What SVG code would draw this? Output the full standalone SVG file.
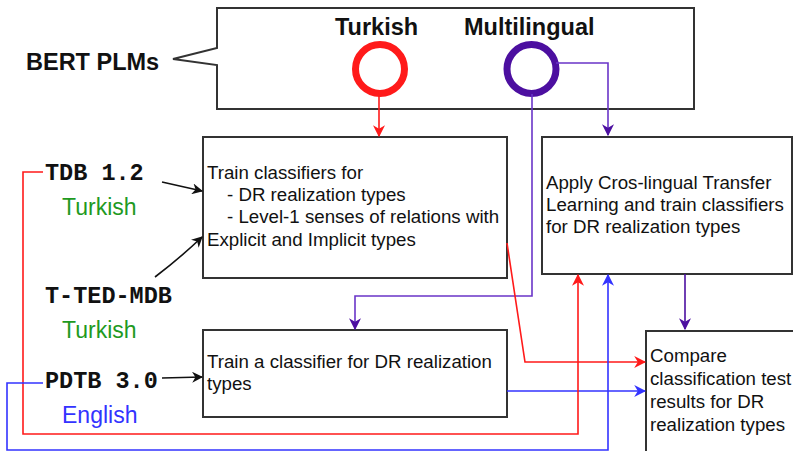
<svg xmlns="http://www.w3.org/2000/svg" width="793" height="451" viewBox="0 0 793 451">
<defs>
<style>
.box{fill:#fff;stroke:#333;stroke-width:2}
.t{font-family:"Liberation Sans",Arial,sans-serif;font-size:18.7px;fill:#111}
.big{font-family:"Liberation Sans",Arial,sans-serif;font-size:23.5px;font-weight:bold;fill:#111}
.mono{font-family:"Liberation Mono","Courier New",monospace;font-size:23.5px;font-weight:bold;fill:#111}
.lang{font-family:"Liberation Sans",Arial,sans-serif;font-size:23px}
.c{fill:none;stroke-width:1.6}
</style>
<marker id="ak" viewBox="0 0 10 10" refX="9" refY="5" markerWidth="11" markerHeight="11" markerUnits="userSpaceOnUse" orient="auto"><path d="M0,0 L10,5 L0,10 L3,5 z" fill="#111"/></marker>
<marker id="ar" viewBox="0 0 10 10" refX="9" refY="5" markerWidth="12" markerHeight="12" markerUnits="userSpaceOnUse" orient="auto"><path d="M0,0 L10,5 L0,10 L3,5 z" fill="#ff1a1a"/></marker>
<marker id="ab" viewBox="0 0 10 10" refX="9" refY="5" markerWidth="12" markerHeight="12" markerUnits="userSpaceOnUse" orient="auto"><path d="M0,0 L10,5 L0,10 L3,5 z" fill="#3333ff"/></marker>
<marker id="ap" viewBox="0 0 10 10" refX="9" refY="5" markerWidth="12" markerHeight="12" markerUnits="userSpaceOnUse" orient="auto"><path d="M0,0 L10,5 L0,10 L3,5 z" fill="#4c0fa0"/></marker>
</defs>
<rect width="793" height="451" fill="#fff"/>

<g id="bert">
<path class="box" d="M217,8 H694 V109 H217 V65 L173,59 L217,48 Z"/>
<text class="big" x="26" y="70">BERT PLMs</text>
<text class="big" x="335" y="35">Turkish</text>
<text class="big" x="464" y="35">Multilingual</text>
<circle cx="380" cy="69" r="24.5" fill="#fff" stroke="#ff1a1a" stroke-width="7"/>
<circle cx="531.5" cy="69" r="24.5" fill="#fff" stroke="#4c0fa0" stroke-width="7"/>
</g>

<g id="tdb">
<text class="mono" x="45" y="180">TDB 1.2</text>
<text class="lang" x="62" y="215" fill="#1f9a1f">Turkish</text>
</g>
<g id="tted">
<text class="mono" x="45" y="303">T-TED-MDB</text>
<text class="lang" x="62" y="338" fill="#1f9a1f">Turkish</text>
</g>
<g id="pdtb">
<text class="mono" x="45" y="388">PDTB 3.0</text>
<text class="lang" x="62" y="423" fill="#3333ff">English</text>
</g>

<g id="train1">
<rect class="box" x="203" y="137" width="304" height="141"/>
<text class="t" x="207" y="179">Train classifiers for</text>
<text class="t" x="227" y="201">- DR realization types</text>
<text class="t" x="227" y="223">- Level-1 senses of relations with</text>
<text class="t" x="207" y="246">Explicit and Implicit types</text>
</g>

<g id="apply">
<rect class="box" x="542" y="137" width="250" height="137"/>
<text class="t" x="546" y="189">Apply Cros-lingual Transfer</text>
<text class="t" x="546" y="211">Learning and train classifiers</text>
<text class="t" x="546" y="233">for DR realization types</text>
</g>

<g id="train2">
<rect class="box" x="203" y="330" width="304" height="87"/>
<text class="t" x="207" y="368">Train a classifier for DR realization</text>
<text class="t" x="207" y="390">types</text>
</g>

<g id="compare">
<rect class="box" x="646" y="331" width="160" height="130"/>
<text class="t" x="650" y="362">Compare</text>
<text class="t" x="650" y="385">classification test</text>
<text class="t" x="650" y="408">results for DR</text>
<text class="t" x="650" y="431">realization types</text>
</g>

<g id="connectors">
<path class="c" stroke="#111" d="M162,182 L202,191" marker-end="url(#ak)"/>
<path class="c" stroke="#111" d="M155,277 Q180,258 202,237" marker-end="url(#ak)"/>
<path class="c" stroke="#111" d="M162,378 L202,377" marker-end="url(#ak)"/>
<path class="c" stroke="#ff1a1a" d="M379,94 V136" marker-end="url(#ar)"/>
<path class="c" stroke="#6a35c8" d="M556,63 H608 V135" marker-end="url(#ap)"/>
<path class="c" stroke="#6a35c8" d="M532,94 V296 H355 V329" marker-end="url(#ap)"/>
<path class="c" stroke="#4c0fa0" d="M685,274 V329" marker-end="url(#ap)"/>
<path class="c" stroke="#ff1a1a" d="M507,243 L525,362 H645" marker-end="url(#ar)"/>
<path class="c" stroke="#3333ff" d="M507,391 H645" marker-end="url(#ab)"/>
<path class="c" stroke="#ff1a1a" d="M43,172 H23 V434 H578 V275" marker-end="url(#ar)"/>
<path class="c" stroke="#3333ff" d="M43,383 H7 V450 H608 V275" marker-end="url(#ab)"/>
</g>
</svg>
